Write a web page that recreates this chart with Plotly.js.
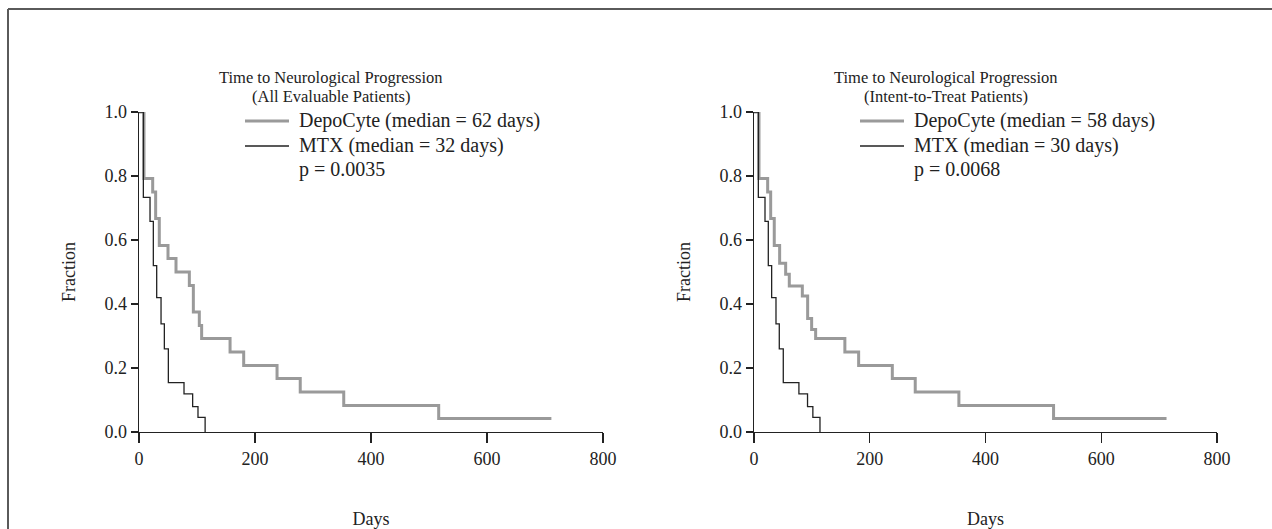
<!DOCTYPE html>
<html>
<head>
<meta charset="utf-8">
<script src="https://cdn.plot.ly/plotly-3.0.1.min.js"></script>
<style>html,body{margin:0;padding:0;background:#fff;}#chart{width:1272px;height:529px;}</style>
</head>
<body>
<div id="chart"></div>
<script>
// ---- Data ----
const leftDepoDays = [0, 8.6, 23.6, 28.7, 35, 50, 63.8, 86.8, 93.7, 104, 108, 157, 180.5, 238, 278, 353, 516.7, 711];
const leftDepoFrac = [1, 0.792, 0.75, 0.667, 0.583, 0.542, 0.5, 0.458, 0.375, 0.333, 0.292, 0.25, 0.208, 0.167, 0.125, 0.083, 0.042, 0.042];
const leftMtxDays = [0, 7.5, 19, 24.7, 30.5, 38, 43.7, 50.6, 77.6, 92.5, 101.7, 114];
const leftMtxFrac = [1, 0.733, 0.658, 0.52, 0.42, 0.338, 0.26, 0.154, 0.119, 0.079, 0.046, 0];

const rightDepoDays = [0, 8.6, 23.6, 28.8, 35, 44.3, 54.7, 61, 83.5, 92.7, 99.6, 106.5, 157, 180.8, 239, 278.6, 354, 517.6, 712.8];
const rightDepoFrac = [1, 0.792, 0.75, 0.667, 0.583, 0.527, 0.493, 0.456, 0.425, 0.355, 0.32, 0.292, 0.25, 0.208, 0.167, 0.125, 0.083, 0.042, 0.042];
const rightMtxDays = [0, 7.5, 19, 24.7, 30.5, 38, 43.7, 50.6, 77.6, 92.5, 101.7, 114];
const rightMtxFrac = [1, 0.733, 0.658, 0.52, 0.42, 0.338, 0.26, 0.154, 0.119, 0.079, 0.046, 0];

const leftNames = ["DepoCyte (median = 62 days)", "MTX (median = 32 days)"];
const rightNames = ["DepoCyte (median = 58 days)", "MTX (median = 30 days)"];
const pValues = ["p = 0.0035", "p = 0.0068"];
const titleLine1 = "Time to Neurological Progression";
const subtitles = ["(All Evaluable Patients)", "(Intent-to-Treat Patients)"];
const xTickVals = [0, 200, 400, 600, 800];
const yTickVals = [0, 0.2, 0.4, 0.6, 0.8, 1.0];
const yTickText = ["0.0", "0.2", "0.4", "0.6", "0.8", "1.0"];

// ---- Styling ----
const W = 1272, H = 529;
const FONT = "Liberation Serif, Times New Roman, serif";
const TXT = "#222";
const GRAY = "#9a9a9a";
const BLACK = "#222";
const px = v => v / W;
const py = v => 1 - v / H;

const traces = [
  {x: leftDepoDays, y: leftDepoFrac, name: leftNames[0], xaxis: "x", yaxis: "y",
   mode: "lines", line: {shape: "hv", color: GRAY, width: 3}},
  {x: leftMtxDays, y: leftMtxFrac, name: leftNames[1], xaxis: "x", yaxis: "y",
   mode: "lines", line: {shape: "hv", color: BLACK, width: 1.3}},
  {x: rightDepoDays, y: rightDepoFrac, name: rightNames[0], xaxis: "x2", yaxis: "y2",
   mode: "lines", line: {shape: "hv", color: GRAY, width: 3}},
  {x: rightMtxDays, y: rightMtxFrac, name: rightNames[1], xaxis: "x2", yaxis: "y2",
   mode: "lines", line: {shape: "hv", color: BLACK, width: 1.3}}
];

const yDom = [py(432), py(112)];
const xAxisBase = {
  range: [0, 800], tickvals: xTickVals, ticks: "outside", ticklen: 10, tickwidth: 1.3, tickcolor: BLACK,
  showline: true, linecolor: BLACK, linewidth: 1.3, showgrid: false, zeroline: false,
  tickfont: {family: FONT, size: 18, color: TXT},
  title: {text: "Days", font: {family: FONT, size: 18, color: TXT}, standoff: 44}
};
const yAxisBase = {
  range: [0, 1], domain: yDom, tickvals: yTickVals, ticktext: yTickText, ticks: "outside", ticklen: 7,
  tickwidth: 1.3, tickcolor: BLACK, showline: true, linecolor: BLACK, linewidth: 1.3,
  showgrid: false, zeroline: false,
  tickfont: {family: FONT, size: 18, color: TXT},
  title: {text: "Fraction", font: {family: FONT, size: 18, color: TXT}, standoff: 24}
};

const ann = [];
const shapes = [
  {type: "line", xref: "paper", yref: "paper", x0: px(8), x1: 1, y0: py(9), y1: py(9), line: {color: "#5a5a5a", width: 2}},
  {type: "line", xref: "paper", yref: "paper", x0: px(8), x1: px(8), y0: py(9), y1: 0, line: {color: "#5a5a5a", width: 2}}
];
// per panel: [title centre x, legend line start x]
const panels = [[331, 245, leftNames, 0], [946, 860, rightNames, 1]];
const legendRowsY = [121, 146, 170];
panels.forEach(([cx, lx, names, i]) => {
  ann.push({xref: "paper", yref: "paper", x: px(cx), y: py(77), text: titleLine1, showarrow: false,
            xanchor: "center", yanchor: "middle", font: {family: FONT, size: 16.5, color: TXT}});
  ann.push({xref: "paper", yref: "paper", x: px(cx), y: py(97), text: subtitles[i], showarrow: false,
            xanchor: "center", yanchor: "middle", font: {family: FONT, size: 16.5, color: TXT}});
  const tx = lx + 52;
  [names[0], names[1], pValues[i]].forEach((t, k) => {
    ann.push({xref: "paper", yref: "paper", x: px(tx), y: py(legendRowsY[k]), text: t, showarrow: false,
              xanchor: "left", yanchor: "middle", font: {family: FONT, size: 20, color: TXT}});
  });
  shapes.push({type: "line", xref: "paper", yref: "paper", x0: px(lx), x1: px(lx + 44),
               y0: py(legendRowsY[0]), y1: py(legendRowsY[0]), line: {color: GRAY, width: 3}});
  shapes.push({type: "line", xref: "paper", yref: "paper", x0: px(lx), x1: px(lx + 44),
               y0: py(legendRowsY[1]), y1: py(legendRowsY[1]), line: {color: BLACK, width: 1.3}});
});

const layout = {
  width: W, height: H,
  margin: {l: 0, r: 0, t: 0, b: 0},
  paper_bgcolor: "#fff", plot_bgcolor: "#fff",
  showlegend: false,
  xaxis: Object.assign({}, xAxisBase, {domain: [px(139), px(603)], anchor: "y"}),
  yaxis: Object.assign({}, yAxisBase, {anchor: "x"}),
  xaxis2: Object.assign({}, xAxisBase, {domain: [px(754), px(1217)], anchor: "y2"}),
  yaxis2: Object.assign({}, yAxisBase, {anchor: "x2"}),
  annotations: ann,
  shapes: shapes
};

Plotly.newPlot("chart", traces, layout, {displayModeBar: false, staticPlot: true});
</script>
</body>
</html>
